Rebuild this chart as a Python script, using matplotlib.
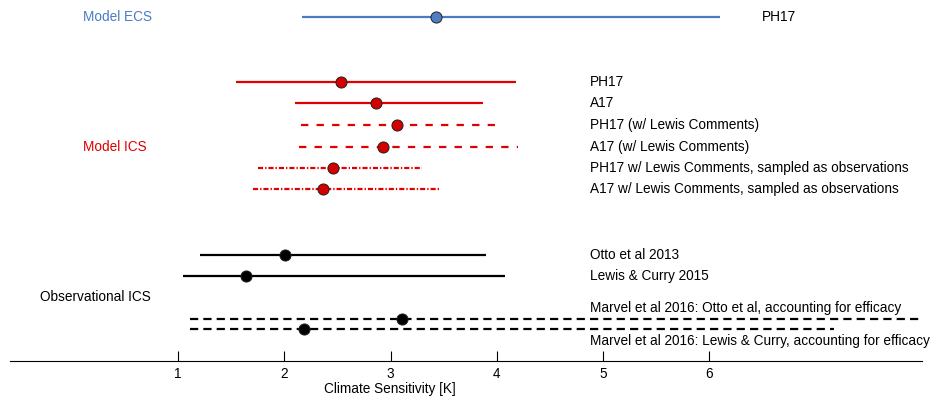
import matplotlib.pyplot as plt
import numpy as np

plt.rcParams['font.family'] = ['Liberation Sans', 'DejaVu Sans']

# rows: (label, low, best, high)
labels = ['PH17',
          'PH17', 'A17', 'PH17 (w/ Lewis Comments)', 'A17 (w/ Lewis Comments)',
          'PH17 w/ Lewis Comments, sampled as observations',
          'A17 w/ Lewis Comments, sampled as observations',
          'Otto et al 2013', 'Lewis & Curry 2015',
          'Marvel et al 2016: Otto et al, accounting for efficacy',
          'Marvel et al 2016: Lewis & Curry, accounting for efficacy']
lows = [2.17, 1.55, 2.10, 2.16, 2.14, 1.75, 1.71, 1.21, 1.05, 1.11, 1.11]
best = [3.43, 2.53, 2.86, 3.06, 2.93, 2.46, 2.36, 2.01, 1.64, 3.11, 2.19]
highs = [6.10, 4.18, 3.87, 4.06, 4.20, 3.30, 3.47, 3.90, 4.08, 8.2, 7.17]

groups = ['Model ECS', 'Model ICS', 'Observational ICS']
xticks = [1, 2, 3, 4, 5, 6]

# layout (y in pixel rows from top, axis baseline at 361)
ypos = [17, 82, 103, 125, 147, 168, 189, 255, 276, 319, 329]
label_y = [17, 82, 103, 125, 147, 168, 189, 255, 276, 308, 341]
label_x = [6.49] + [4.88] * 10
blue = '#4a7bc4'
red = '#e10000'
colors = [blue] + [red] * 6 + ['black'] * 4
dashed = (0, (3.3, 3.7))
dashdot = (0, (2.3, 0.9, 0.6, 0.9))
bdash = (0, (3.7, 2.3))
styles = ['-', '-', '-', dashed, dashed, dashdot, dashdot, '-', '-', bdash, bdash]
mfaces = ['#4f7fc0'] + ['#d40000'] * 6 + ['black'] * 4
group_pos = [(0.11, 17, blue), (0.11, 147, red), (-0.30, 297, 'black')]
fs = 9.8

fig = plt.figure(figsize=(9.34, 3.96), dpi=100)
ax = fig.add_axes([10 / 934, 35 / 396, 912 / 934, 361 / 396])

for i in range(len(labels)):
    ax.plot([lows[i], highs[i]], [ypos[i], ypos[i]], color=colors[i],
            linestyle=styles[i], linewidth=1.6, solid_capstyle='butt')
    ax.plot(best[i], ypos[i], 'o', color=mfaces[i], markeredgecolor='#222222',
            markeredgewidth=0.7, markersize=8)
    ax.text(label_x[i], label_y[i], labels[i], fontsize=fs, va='center', ha='left')

for name, (gx, gy, gc) in zip(groups, group_pos):
    ax.text(gx, gy, name, fontsize=fs, color=gc, va='center', ha='left')

ax.set_xlim(-0.58, 8.0)
ax.set_ylim(361, 0)
ax.set_xticks(xticks)
ax.set_xticklabels([str(t) for t in xticks], fontsize=fs)
ax.tick_params(axis='x', direction='in', length=7, width=0.8, pad=4)
ax.set_yticks([])
for s in ['top', 'left', 'right']:
    ax.spines[s].set_visible(False)
ax.spines['bottom'].set_linewidth(0.8)
ax.set_xlabel('Climate Sensitivity [K]', fontsize=fs)
ax.xaxis.set_label_coords((390 - 10) / 912, -0.058)

fig.savefig('out.png', dpi=100)
